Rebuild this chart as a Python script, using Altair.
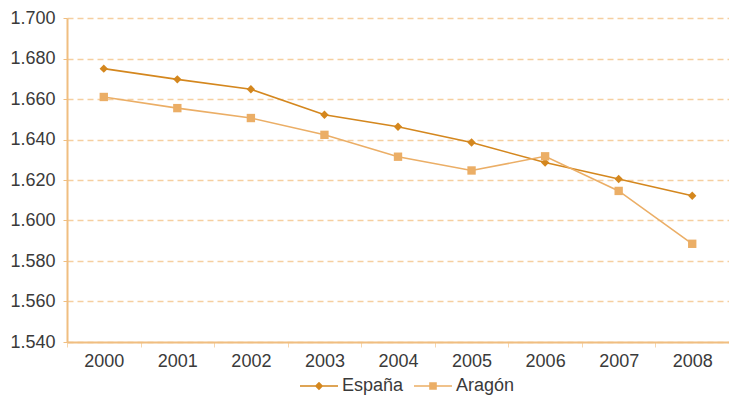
import altair as alt
import pandas as pd

years = ["2000", "2001", "2002", "2003", "2004", "2005", "2006", "2007", "2008"]
espana = [1.675, 1.6697, 1.6648, 1.6522, 1.6463, 1.6385, 1.6286, 1.6205, 1.6122]
aragon = [1.661, 1.6555, 1.6506, 1.6423, 1.6315, 1.6247, 1.6317, 1.6146, 1.5885]
series = ["España", "Aragón"]
colors = ["#D4871E", "#EBAE66"]
y_ticks = [1.54, 1.56, 1.58, 1.60, 1.62, 1.64, 1.66, 1.68, 1.70]

rows = []
for name, vals in zip(series, [espana, aragon]):
    for yr, v in zip(years, vals):
        rows.append({"year": yr, "value": v, "serie": name})
df = pd.DataFrame(rows)

FONT = "Liberation Sans"
TXT = "#3a3a3a"
FS = 18

x_enc = alt.X("year:N", sort=years, title=None,
              scale=alt.Scale(paddingInner=0, paddingOuter=0),
              axis=alt.Axis(labelAngle=0, labelFontSize=FS, labelColor=TXT, labelFont=FONT,
                            labelPadding=5, domainColor="#F0BE80", domainWidth=2,
                            tickColor="#F6D6AE", tickSize=5, tickBand="extent", grid=False))
y_enc = alt.Y("value:Q", title=None,
              scale=alt.Scale(domain=[1.54, 1.70], nice=False, zero=False),
              axis=alt.Axis(values=y_ticks, format=".3f", labelFontSize=FS, labelColor=TXT,
                            labelFont=FONT, labelPadding=8, domainColor="#F0BE80", domainWidth=2,
                            tickColor="#F0BE80", tickSize=4,
                            grid=True, gridColor="#F5CFA0", gridDash=[6, 4], gridWidth=1.5))

legend_paths = [
    "M-1,-0.04H1V0.04H-1ZM0,-0.22L0.22,0L0,0.22L-0.22,0Z",
    "M-1,-0.04H1V0.04H-1ZM-0.2,-0.2H0.2V0.2H-0.2Z",
]

color_scale = alt.Scale(domain=series, range=colors)

lines = alt.Chart(df).mark_line(strokeWidth=1.6).encode(
    x=x_enc, y=y_enc,
    color=alt.Color("serie:N", scale=color_scale, legend=None, sort=series),
    detail="serie:N",
)
points = alt.Chart(df).mark_point(filled=True, opacity=1, size=70).encode(
    x=x_enc, y=y_enc,
    color=alt.Color("serie:N", scale=color_scale, legend=None, sort=series),
    shape=alt.Shape("serie:N", scale=alt.Scale(domain=series, range=["diamond", "square"]), legend=None),
)

legend_layers = []
for i, (name, col, path, lx) in enumerate(zip(series, colors, legend_paths, [233, 347])):
    lg = alt.Legend(title=None, orient="none", direction="horizontal", legendX=lx, legendY=349,
                    symbolSize=1444, labelFontSize=FS, labelColor=TXT, labelFont=FONT,
                    labelOffset=4, symbolOpacity=1, symbolStrokeWidth=0,
                    symbolFillColor=col)
    legend_layers.append(
        alt.Chart(df).transform_filter(alt.datum.serie == name).transform_filter("false")
        .mark_point(filled=True, opacity=1, color=col).encode(
            x=x_enc, y=y_enc,
            shape=alt.Shape("serie:N", scale=alt.Scale(domain=[name], range=[path]), legend=lg),
        )
    )

chart = alt.layer(lines, points, *legend_layers).resolve_scale(shape="independent").properties(
    width=662, height=324,
    autosize=alt.AutoSizeParams(type="none"),
    padding={"left": 59, "top": 10, "right": 0, "bottom": 56},
).configure_view(stroke=None)

chart.save("out.html", embed_options={"renderer": "svg", "actions": False})
